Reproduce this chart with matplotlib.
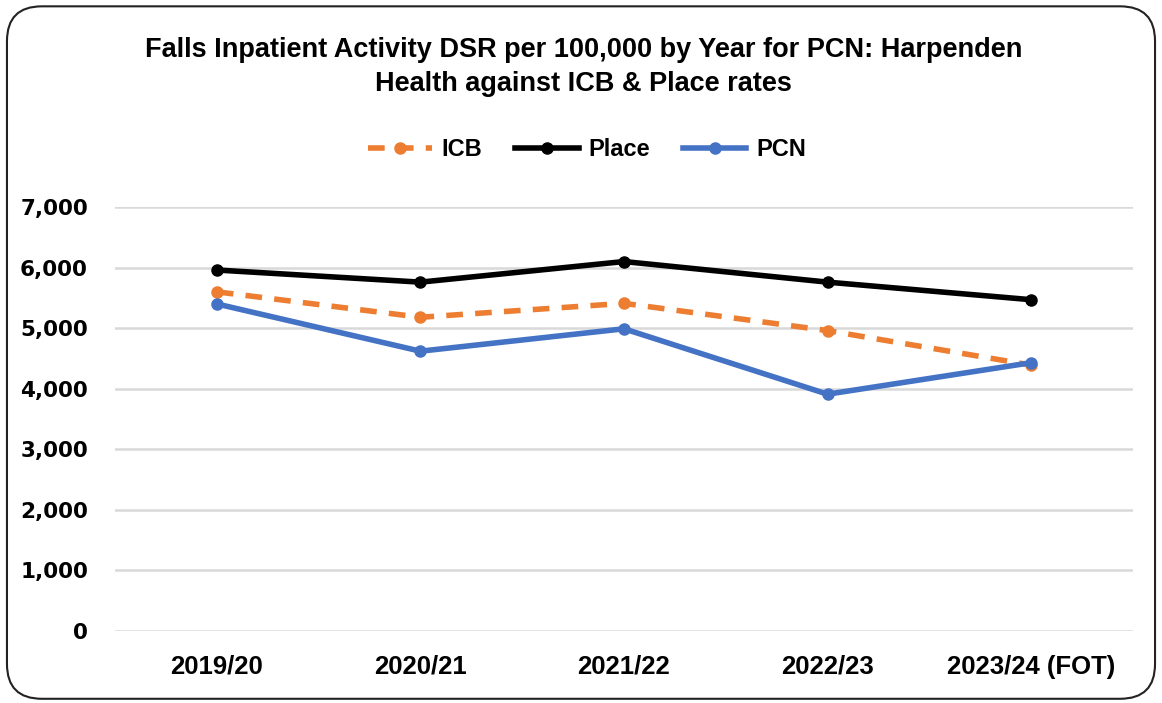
import matplotlib.pyplot as plt
from matplotlib.patches import FancyBboxPatch
from matplotlib.ticker import FuncFormatter

# data
years = ["2019/20", "2020/21", "2021/22", "2022/23", "2023/24 (FOT)"]
icb = [5600, 5180, 5410, 4960, 4390]
place = [5960, 5760, 6100, 5760, 5470]
pcn = [5400, 4620, 4990, 3910, 4430]

plt.rcParams['font.family'] = ['Liberation Sans', 'DejaVu Sans']

fig = plt.figure(figsize=(11.62, 7.03), dpi=100)
ax = fig.add_axes([0.099, 0.1024, 0.876, 0.6031])

# rounded border round the whole chart
border = FancyBboxPatch((0.006, 0.006), 0.988, 0.985,
                        boxstyle="round,pad=0,rounding_size=0.03",
                        transform=fig.transFigure, fill=False,
                        edgecolor='#222222', linewidth=1.5, mutation_aspect=1.65)
fig.patches.append(border)

x = range(len(years))
ax.plot(x, icb, color='#ed7d31', linewidth=4, linestyle=(0, (3, 2.2)),
        marker='o', markersize=8, label='ICB')
ax.plot(x, place, color='black', linewidth=4, marker='o', markersize=8, label='Place')
ax.plot(x, pcn, color='#4472c4', linewidth=4, marker='o', markersize=8, label='PCN')

ax.set_xlim(-0.5, len(years) - 0.5)
ax.set_ylim(0, 7000)
ax.set_yticks(range(0, 7001, 1000))
ax.yaxis.set_major_formatter(FuncFormatter(lambda v, p: f"{int(v):,}"))
ax.set_xticks(list(x))
ax.set_xticklabels(years)
ax.grid(axis='y', color='#d9d9d9', linewidth=1.8)
ax.set_axisbelow(True)
for s in ax.spines.values():
    s.set_visible(False)
ax.tick_params(length=0)
ax.tick_params(axis='x', pad=17)
ax.tick_params(axis='y', pad=19.5)
for lbl in ax.get_yticklabels():
    lbl.set_fontfamily(['DejaVu Sans'])
    lbl.set_fontsize(15.5)
    lbl.set_fontweight('bold')
for lbl in ax.get_xticklabels():
    lbl.set_fontsize(18.5)
    lbl.set_fontweight('bold')

fig.text(0.502, 0.905, "Falls Inpatient Activity DSR per 100,000 by Year for PCN: Harpenden\nHealth against ICB & Place rates",
         ha='center', va='center', fontsize=19.5, fontweight='bold', linespacing=1.4)

fig.legend(loc='center', bbox_to_anchor=(0.505, 0.787), ncol=3, frameon=False,
           prop={'size': 17, 'weight': 'bold'}, handlelength=2.7, columnspacing=1.4,
           handletextpad=0.4)

fig.savefig('out.png', dpi=100)
